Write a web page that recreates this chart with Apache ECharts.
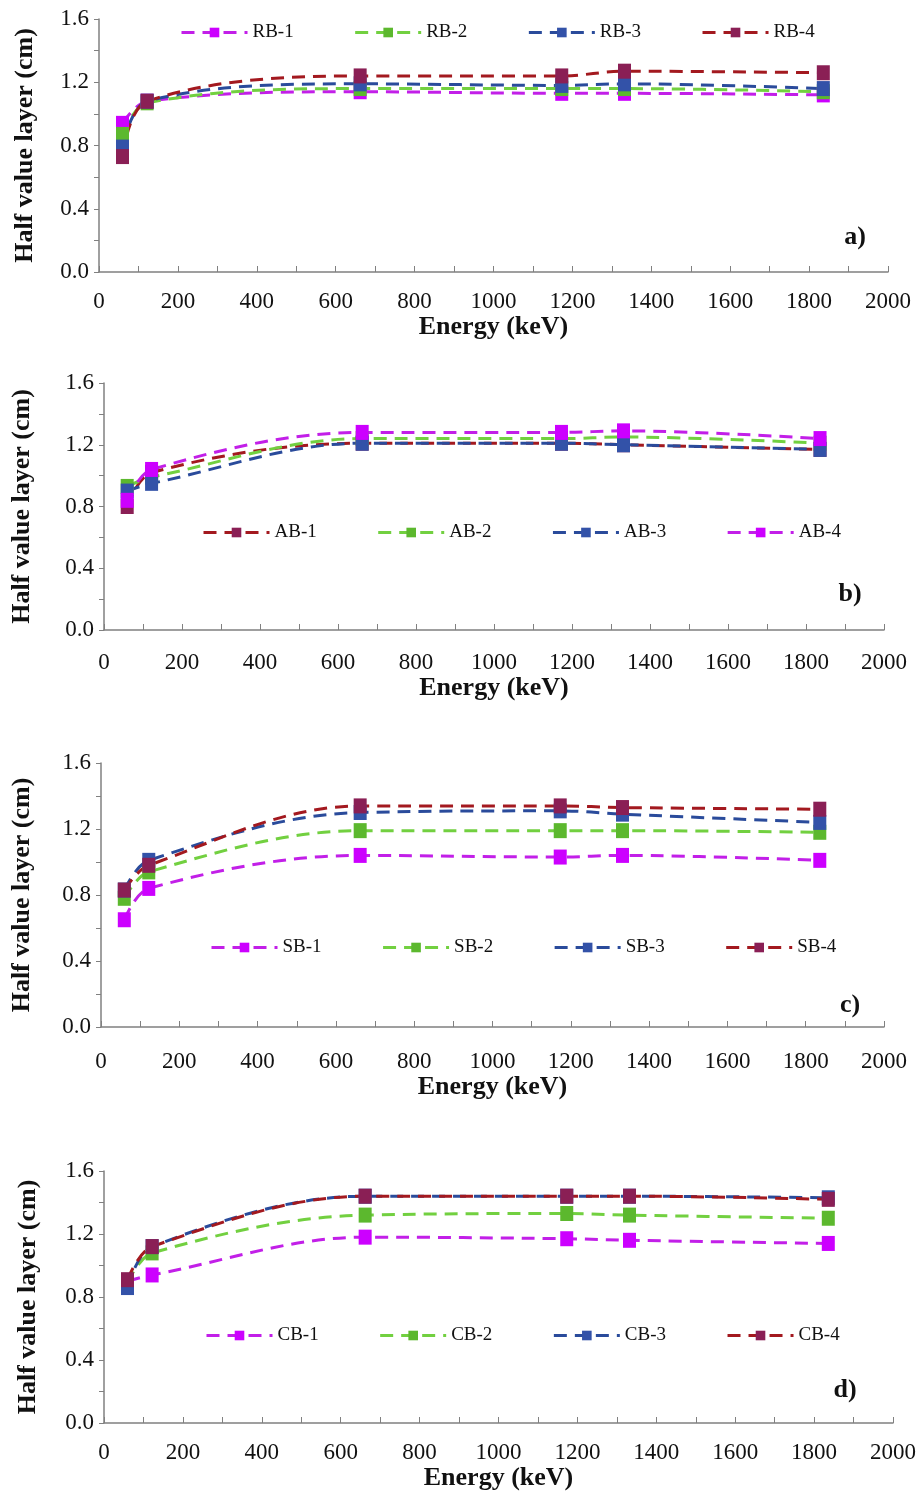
<!DOCTYPE html>
<html>
<head>
<meta charset="utf-8">
<script src="https://cdn.jsdelivr.net/npm/echarts@6/dist/echarts.min.js"></script>
<style>
html, body { margin: 0; padding: 0; background: #fff; }
#chart-container { width: 921px; height: 1493px; }
</style>
</head>
<body>
<div id="chart-container"></div>
<script>
// gamma energies (keV)
var energy = [59.5, 122, 662, 1173, 1332, 1836];

// a) RB
var rb1 = [0.94, 1.08, 1.14, 1.13, 1.13, 1.12];
var rb2 = [0.87, 1.07, 1.16, 1.16, 1.16, 1.14];
var rb3 = [0.79, 1.08, 1.19, 1.18, 1.19, 1.16];
var rb4 = [0.73, 1.08, 1.24, 1.24, 1.27, 1.26];
// b) AB
var ab1 = [0.80, 1.02, 1.21, 1.21, 1.20, 1.17];
var ab2 = [0.93, 0.99, 1.24, 1.24, 1.25, 1.21];
var ab3 = [0.90, 0.95, 1.21, 1.21, 1.20, 1.17];
var ab4 = [0.84, 1.04, 1.28, 1.28, 1.29, 1.24];
// c) SB
var sb1 = [0.65, 0.84, 1.04, 1.03, 1.04, 1.01];
var sb2 = [0.78, 0.94, 1.19, 1.19, 1.19, 1.18];
var sb3 = [0.83, 1.01, 1.30, 1.31, 1.29, 1.24];
var sb4 = [0.83, 0.98, 1.34, 1.34, 1.33, 1.32];
// d) CB
var cb1 = [0.90, 0.94, 1.18, 1.17, 1.16, 1.14];
var cb2 = [0.89, 1.08, 1.32, 1.33, 1.32, 1.30];
var cb3 = [0.86, 1.12, 1.44, 1.44, 1.44, 1.43];
var cb4 = [0.91, 1.12, 1.44, 1.44, 1.44, 1.42];

var xMax = 2000, xStep = 200;
var yMax = 1.6, yStep = 0.4;

var magenta = { line: "#c21fe8", mark: "#cc00ff" };
var green = { line: "#72d040", mark: "#5cb82e" };
var blue = { line: "#2a4b9b", mark: "#3352a8" };
var maroon = { line: "#a3191f", mark: "#8a1f55" };

var font = "Liberation Serif";

var panels = [
    { tag: "a)", names: ["RB-1", "RB-2", "RB-3", "RB-4"], data: [rb1, rb2, rb3, rb4], colors: [magenta, green, blue, maroon],
      grid: { left: 99, right: 33, top: 19, height: 253 }, legend: { left: 175, top: 18 }, label: [855, 237],
      xMargin: 18, xGap: 41, yGap: 61 },
    { tag: "b)", names: ["AB-1", "AB-2", "AB-3", "AB-4"], data: [ab1, ab2, ab3, ab4], colors: [maroon, green, blue, magenta],
      grid: { left: 104, right: 37, top: 383, height: 247 }, legend: { left: 197, top: 518 }, label: [850, 594],
      xMargin: 21, xGap: 40, yGap: 69 },
    { tag: "c)", names: ["SB-1", "SB-2", "SB-3", "SB-4"], data: [sb1, sb2, sb3, sb4], colors: [magenta, green, blue, maroon],
      grid: { left: 101, right: 37, top: 763, height: 264 }, legend: { left: 205, top: 933 }, label: [850, 1005],
      xMargin: 23, xGap: 42, yGap: 66 },
    { tag: "d)", names: ["CB-1", "CB-2", "CB-3", "CB-4"], data: [cb1, cb2, cb3, cb4], colors: [magenta, green, blue, maroon],
      grid: { left: 104, right: 28, top: 1171, height: 252 }, legend: { left: 200, top: 1321 }, label: [845, 1390],
      xMargin: 18, xGap: 42, yGap: 63 }
];

var option = {
    animation: false,
    backgroundColor: "#fff",
    textStyle: { fontFamily: font },
    grid: [], xAxis: [], yAxis: [], legend: [], series: [], graphic: []
};

panels.forEach(function (p, i) {
    option.grid.push(p.grid);
    option.xAxis.push({
        type: "value", gridIndex: i, min: 0, max: xMax, interval: xStep,
        name: "Energy (keV)", nameLocation: "middle", nameGap: p.xGap,
        nameTextStyle: { fontFamily: font, fontWeight: "bold", fontSize: 26, color: "#111" },
        axisLine: { show: true, lineStyle: { color: "#808080", width: 1.5 } },
        axisTick: { show: true, inside: true, length: 6, lineStyle: { color: "#808080" } },
        minorTick: { show: true, splitNumber: 2, length: 6, lineStyle: { color: "#808080" } },
        splitLine: { show: false },
        axisLabel: { fontFamily: font, fontSize: 23, color: "#111", margin: p.xMargin,
            formatter: function (v) { return String(v); } }
    });
    option.yAxis.push({
        type: "value", gridIndex: i, min: 0, max: yMax, interval: yStep,
        name: "Half value layer (cm)", nameLocation: "middle", nameGap: p.yGap,
        nameTextStyle: { fontFamily: font, fontWeight: "bold", fontSize: 26, color: "#111" },
        axisLine: { show: true, lineStyle: { color: "#808080", width: 1.5 } },
        axisTick: { show: true, length: 5, lineStyle: { color: "#808080" } },
        minorTick: { show: true, splitNumber: 2, length: 5, lineStyle: { color: "#808080" } },
        splitLine: { show: false },
        axisLabel: { fontFamily: font, fontSize: 23, color: "#111", margin: 10,
            formatter: function (v) { return v.toFixed(1); } }
    });
    option.legend.push({
        left: p.legend.left, top: p.legend.top, orient: "horizontal",
        data: p.names, itemWidth: 66, itemHeight: 12, itemGap: 60,
        lineStyle: { width: 3 },
        textStyle: { fontFamily: font, fontSize: 19, color: "#111" }
    });
    p.names.forEach(function (name, k) {
        var vals = p.data[k];
        option.series.push({
            name: name, type: "line", xAxisIndex: i, yAxisIndex: i,
            smooth: 0.35, symbol: "rect", symbolSize: [13, 15],
            lineStyle: { color: p.colors[k].line, width: 3, type: [13, 8] },
            itemStyle: { color: p.colors[k].mark },
            data: energy.map(function (e, j) { return [e, vals[j]]; })
        });
    });
    option.graphic.push({
        type: "text", x: p.label[0], y: p.label[1],
        style: { text: p.tag, font: "bold 26px " + font, fill: "#111", align: "center", verticalAlign: "middle" }
    });
});

var myChart = echarts.init(document.getElementById("chart-container"), null, { renderer: "canvas" });
myChart.setOption(option);
</script>
</body>
</html>
